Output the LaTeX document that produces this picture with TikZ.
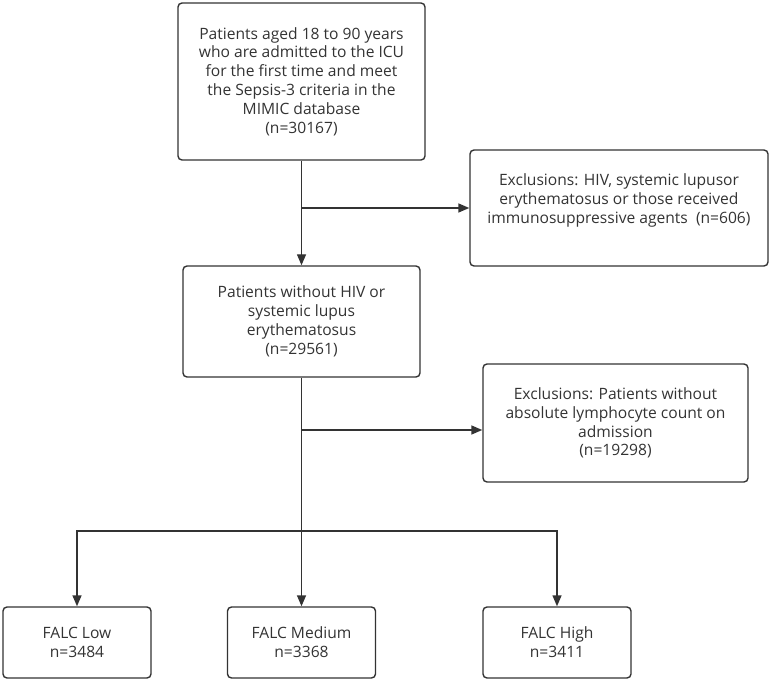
\documentclass[tikz,border=0pt]{standalone}
\usepackage{fontspec}
\setmainfont{Open Sans}
\usetikzlibrary{arrows.meta}
\definecolor{inkgray}{HTML}{333333}
\begin{document}
\begin{tikzpicture}[x=1pt,y=-1pt,
  every node/.style={font=\fontsize{15.6}{18.8}\selectfont,text=inkgray},
  flowbox/.style={draw=inkgray,line width=1.4pt,rounded corners=4pt,align=center,inner sep=0pt},
  flowline/.style={draw=inkgray,line width=1.4pt},
  flowarrow/.style={flowline,-{Triangle[length=11pt,width=9pt]}}]
\useasboundingbox (0,0) rectangle (774,684);
\node[flowbox,minimum width=247,minimum height=157] (start) at (301.5,81.5)
  {Patients aged 18 to 90 years\\who are admitted to the ICU\\for the first time and meet\\the Sepsis-3 criteria in the\\MIMIC database\\(n=30167)};
\node[flowbox,minimum width=298,minimum height=116] (excl1) at (619,208)
  {Exclusions: HIV, systemic lupusor\\erythematosus or those received\\immunosuppressive agents~~(n=606)\\ \mbox{}};
\node[flowbox,minimum width=237,minimum height=111] (kept) at (301.5,321.5)
  {Patients without HIV or\\systemic lupus\\erythematosus\\(n=29561)};
\node[flowbox,minimum width=265,minimum height=118] (excl2) at (615.5,423)
  {Exclusions: Patients without\\absolute lymphocyte count on\\admission\\(n=19298)};
\node[flowbox,minimum width=148,minimum height=71] (low) at (77,642.5) {FALC Low\\n=3484};
\node[flowbox,minimum width=148,minimum height=71] (medium) at (301.5,642.5) {FALC Medium\\n=3368};
\node[flowbox,minimum width=148,minimum height=71] (high) at (557,642.5) {FALC High\\n=3411};
\coordinate (split2) at (301.5,430);
\coordinate (fork) at (301.5,531);
\draw[flowarrow] (start) -- (kept);
\draw[flowarrow] (start.south |- excl1.west) -- (excl1.west);
\draw[flowarrow] (split2) -- (split2 -| excl2.west);
\draw[flowline] (kept) -- (fork);
\draw[flowarrow] (fork) -| (low);
\draw[flowarrow] (fork) -- (medium);
\draw[flowarrow] (fork) -| (high);
\end{tikzpicture}
\end{document}
